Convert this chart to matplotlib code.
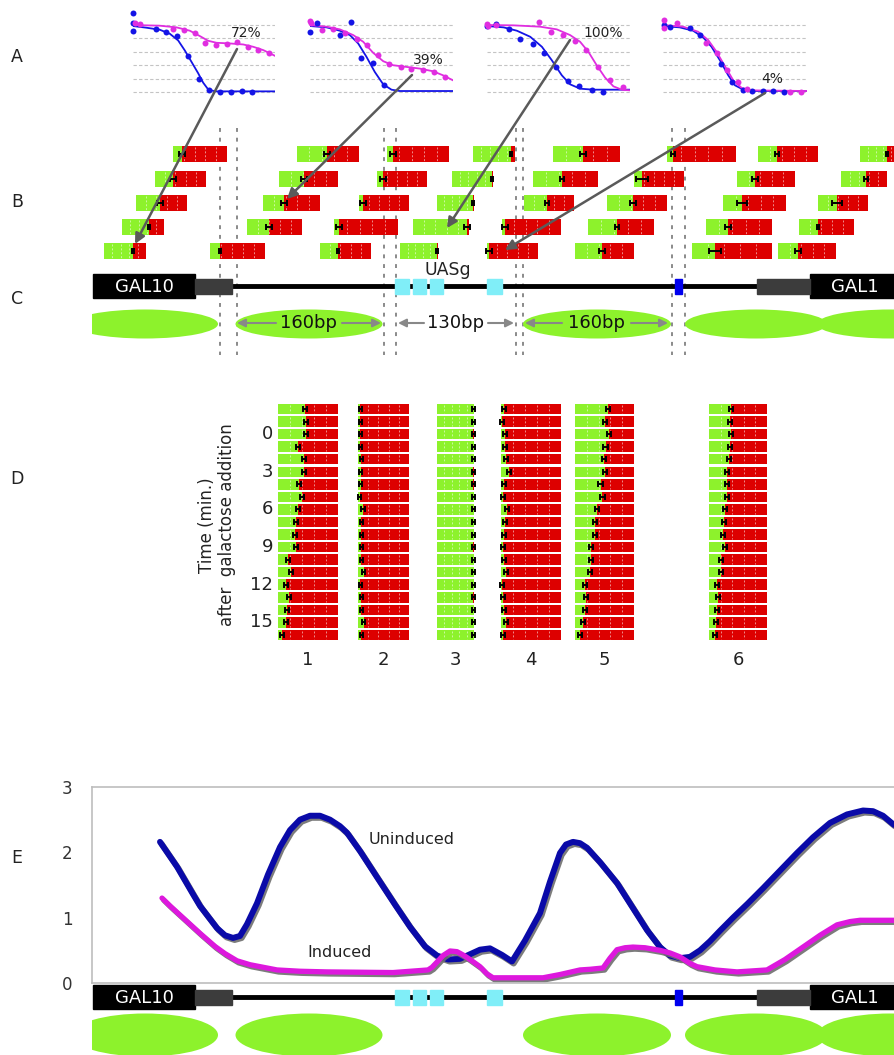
import numpy as np
import matplotlib
matplotlib.use("Agg")
import matplotlib.pyplot as plt
from matplotlib.patches import Rectangle, Ellipse
import matplotlib.patheffects as pe

W, H = 894, 1055
GREEN = "#8df22c"
RED = "#dd0000"
BLUE_A = "#1414e6"
MAG_A = "#e02ee0"
BLUE_E = "#0a0aa8"
MAG_E = "#dd18dd"
CYAN = "#80eef8"

# ---- panel A: occupancy decay curves (x = fraction of time course, y = relative signal)
grid_levels = [0.0, 0.2, 0.4, 0.6, 0.8, 1.0]
a_percent = ["72%", "39%", "100%", "4%"]

blue_dot_x = [[0, 0, 0, .16, .235, .311, .388, .464, .536, .612, .687, .765, .84],
              [0, .047, .209, .284, .36, .442, .519],
              [0, .065, .151, .233, .319, .4, .484, .563, .644, .733, .814],
              [.005, .051, .186, .26, .4, .481, .558, .616, .693, .767, .842]]
blue_dot_y = [[1.185, 1.025, .91, .935, .89, .84, .54, .19, .035, 0, 0, .015, 0],
              [.89, 1.025, .85, 1.04, .515, .435, .1],
              [.985, 1.015, .935, .785, .71, .585, .375, .165, .085, .025, 0],
              [1.0, .975, .95, .85, .425, .15, .025, .015, .015, .015, 0]]
blue_fit_x = [[0, .094, .188, .259, .318, .365, .412, .459, .494, .529, .576, 1.0],
              [0, .116, .209, .279, .337, .395, .453, .512, .57, .628, 1.0],
              [0, .116, .209, .302, .384, .453, .523, .581, .651, .744, 1.0],
              [0, .116, .209, .279, .337, .395, .453, .5, .558, .628, 1.0]]
blue_fit_y = [[.985, .96, .93, .87, .77, .62, .45, .28, .14, .04, .01, .01],
              [.985, .965, .915, .85, .725, .525, .30, .115, .035, .015, .015],
              [.985, .965, .915, .825, .675, .475, .25, .115, .05, .035, .035],
              [.985, .965, .915, .815, .675, .475, .25, .10, .035, .015, .015]]
mag_dot_x = [[.012, .052, .282, .358, .435, .506, .584, .659, .729, .807, .882, .958],
             [0, .005, .081, .163, .244, .326, .4, .477, .553, .633, .709, .791, .865, .942],
             [0, .005, .065, .367, .447, .53, .616, .693, .779, .86, .953],
             [.005, .005, .098, .302, .372, .447, .523, .581, .884, .958]]
mag_dot_y = [[1.025, 1.015, .935, .925, .875, .735, .70, .71, .75, .675, .625, .585],
             [1.065, 1.025, .925, .935, .875, .785, .70, .55, .425, .375, .35, .325, .30, .225],
             [1.015, .985, 1.0, 1.05, .9, .85, .765, .625, .375, .175, .075],
             [1.075, .95, 1.025, .725, .585, .325, .15, .05, 0, 0]]
mag_fit_x = [[0, .188, .306, .4, .471, .529, .588, .682, .776, .847, .918, 1.0],
             [0, .116, .209, .302, .372, .442, .512, .581, .674, .767, .86, .93, 1.0],
             [0, .186, .372, .488, .581, .651, .709, .767, .826, .884, .942, 1.0],
             [0, .14, .244, .314, .372, .43, .488, .547, .605, 1.0]]
mag_fit_y = [[1.0, .99, .965, .915, .835, .765, .735, .725, .71, .675, .625, .54],
             [1.0, .975, .935, .85, .75, .585, .46, .40, .375, .35, .31, .25, .175],
             [1.0, .995, .975, .935, .85, .75, .6, .4, .215, .085, .035, .025],
             [1.0, .975, .9, .775, .6, .385, .175, .06, .025, .015]]

# ---- panel B: nucleosome-position bars (start, green length, red length, error), one list per row
b_start = [[173, 297, 387, 473, 553, 667, 758, 860],
           [155, 279, 377, 452, 533, 634, 737, 841],
           [136, 263, 359, 437, 524, 607, 723, 818],
           [122, 247, 334, 413, 502, 588, 706, 799],
           [104, 210, 320, 400, 487, 575, 692, 778]]
b_green = [[9, 30, 6, 38, 30, 6, 19, 27],
           [18, 25, 6, 40, 29, 8, 18, 25],
           [24, 21, 4, 36, 23, 26, 19, 19],
           [27, 22, 5, 54, 3, 29, 22, 19],
           [29, 10, 18, 37, 2, 27, 23, 20]]
b_red = [[45, 32, 56, 4, 37, 63, 41, 12],
         [33, 34, 44, 1, 36, 42, 40, 21],
         [27, 36, 46, 1, 27, 34, 44, 31],
         [15, 33, 59, 2, 56, 37, 44, 36],
         [13, 45, 33, 1, 49, 32, 57, 38]]
b_err = [[3, 3, 3, 1, 3, 2, 2, 1],
         [3, 3, 3, 1, 2, 6, 3, 2],
         [3, 3, 3, 1, 2, 3, 5, 5],
         [1, 3, 3, 3, 3, 2, 3, 1],
         [1, 1, 1, 1, 3, 3, 6, 3]]

# ---- panel D: green fraction per time point for sites 1..6
d_labels = ["1", "2", "3", "4", "5", "6"]
d_left = [278, 358, 437, 501, 575, 709]
d_width = [60, 51, 37, 60, 59, 58]
d_frac = [
    [.444, .461, .472, .333, .428, .428, .35, .406, .333, .306, .278, .294, .167, .222, .128, .183, .156, .139, .072],
    [.046, .046, .046, .046, .066, .053, .053, .033, .099, .066, .066, .066, .066, .112, .046, .066, .066, .112, .066],
    [.99, .99, .98, .99, .99, .98, .98, .99, .99, .99, .99, .98, .99, .99, .99, .98, .99, .99, .99],
    [.044, .017, .072, .072, .088, .127, .044, .033, .099, .072, .055, .033, .044, .088, .017, .033, .044, .088, .033],
    [.562, .506, .573, .517, .494, .506, .433, .466, .376, .337, .337, .270, .264, .253, .169, .185, .169, .129, .084],
    [.385, .368, .385, .368, .345, .310, .310, .310, .282, .253, .241, .270, .213, .213, .138, .155, .138, .126, .098]]
d_time_ticks = ["0", "3", "6", "9", "12", "15"]

# ---- panel E: nucleosome occupancy along the promoter
e_blue_x = [160, 177, 193, 200, 217, 225, 233, 240, 247, 257, 268, 280, 290, 300, 310, 320, 330, 340,
            347, 360, 377, 395, 410, 425, 437, 448, 460, 470, 480, 490, 502, 512, 525, 540, 550, 560,
            566, 573, 580, 587, 600, 617, 632, 647, 660, 670, 680, 690, 700, 710, 720, 733, 748, 763,
            780, 797, 813, 830, 847, 863, 873, 883, 894]
e_blue_y = [2.16, 1.78, 1.36, 1.18, 0.84, 0.73, 0.69, 0.72, 0.9, 1.22, 1.66, 2.08, 2.34, 2.5, 2.56, 2.56,
            2.5, 2.4, 2.3, 2.02, 1.62, 1.2, 0.86, 0.56, 0.42, 0.36, 0.37, 0.44, 0.51, 0.53, 0.43, 0.33,
            0.65, 1.07, 1.55, 1.99, 2.12, 2.16, 2.14, 2.07, 1.85, 1.53, 1.17, 0.81, 0.55, 0.42, 0.38, 0.4,
            0.5, 0.64, 0.8, 1.0, 1.22, 1.45, 1.72, 1.99, 2.23, 2.45, 2.58, 2.64, 2.63, 2.56, 2.42]
e_mag_x = [162, 170, 185, 200, 215, 225, 237, 250, 277, 300, 327, 393, 428, 432, 437, 443, 450, 457,
           463, 470, 480, 487, 493, 513, 543, 560, 580, 590, 603, 610, 617, 625, 633, 645, 660, 670,
           680, 690, 697, 715, 737, 767, 785, 803, 820, 837, 850, 860, 894]
e_mag_y = [1.3, 1.18, 0.97, 0.76, 0.56, 0.45, 0.34, 0.28, 0.2, 0.18, 0.17, 0.16, 0.2, 0.24, 0.32, 0.42,
           0.49, 0.48, 0.43, 0.36, 0.25, 0.14, 0.08, 0.08, 0.08, 0.13, 0.2, 0.21, 0.23, 0.38, 0.51, 0.54,
           0.55, 0.54, 0.5, 0.46, 0.4, 0.3, 0.25, 0.2, 0.17, 0.2, 0.36, 0.55, 0.73, 0.89, 0.94, 0.96, 0.96]
e_ticks = [0, 1, 2, 3]

# ---- promoter map features (shared by C and E)
gal10_box = (93, 195)
gal1_box = (810, 900)
utr_boxes = [(195, 232), (757, 810)]
uas_boxes = [(395, 409), (413, 426), (430, 443), (487, 502)]
tata_box = (675, 682)
nuc_centers = [145, 309, 597, 756, 890]
nuc_widths = [146, 147, 148, 142, 146]
dotted_x = [220, 237, 384, 396, 516, 523, 672, 685]

fig = plt.figure(figsize=(W / 100, H / 100), dpi=100)
ax = fig.add_axes([0, 0, 1, 1])
ax.set_xlim(0, W)
ax.set_ylim(H, 0)
ax.axis("off")
ax.set_zorder(5)


def px_axes(l, t, r, b):
    return fig.add_axes([l / W, 1 - b / H, (r - l) / W, (b - t) / H])


# panel letters
for letter, y in zip("ABCDE", [57, 202, 299, 479, 858]):
    ax.text(17, y, letter, fontsize=12.5, ha="center", va="center", color="#222222")

# ---------------- A
a_left = [133, 310, 487, 663]
a_right = [275, 453, 630, 807]
for i in range(4):
    sub = px_axes(a_left[i], 8, a_right[i], 99)
    sub.set_xlim(0, 1)
    sub.set_ylim(-0.104, 1.254)
    sub.axis("off")
    for g in grid_levels:
        sub.axhline(g, color="#c4c4c4", lw=0.8, ls=(0, (3, 2)))
    sub.plot(blue_fit_x[i], blue_fit_y[i], color=BLUE_A, lw=1.3)
    sub.plot(mag_fit_x[i], mag_fit_y[i], color=MAG_A, lw=1.3)
    sub.plot(blue_dot_x[i], blue_dot_y[i], "o", color=BLUE_A, ms=4.3, mec="none", clip_on=False)
    sub.plot(mag_dot_x[i], mag_dot_y[i], "o", color=MAG_A, ms=4.3, mec="none", clip_on=False)

for txt, pos in zip(a_percent, [(246, 33), (428, 60), (603, 33), (772, 79)]):
    ax.text(pos[0], pos[1], txt, fontsize=10, ha="center", va="center", color="#222222")

arrow_from = [(237, 49), (412, 75), (570, 40), (765, 93)]
arrow_to = [(135, 244), (287, 199), (447, 228), (505, 250)]
for s, e in zip(arrow_from, arrow_to):
    ax.annotate("", xy=e, xytext=s,
                arrowprops=dict(arrowstyle="-|>", color="#5a5a5a", lw=1.8, mutation_scale=15,
                                shrinkA=0, shrinkB=0), zorder=10)


# ---------------- B
def draw_bar(y, left, green, red, err, h):
    total = green + red
    ax.barh(y, green, left=left, height=h, color=GREEN, lw=0)
    ax.barh(y, red, left=left + green, height=h, color=RED, lw=0)
    qs = [left + total * k / 5 for k in range(1, 5)]
    ax.vlines(qs, y - h / 2 + 1, y + h / 2 - 1, colors="white", lw=0.7, alpha=0.55,
              linestyles=(0, (2, 2)))
    ax.errorbar(left + green, y, xerr=err, fmt="none", ecolor="black", elinewidth=1.4,
                capsize=2.5, capthick=1.4)


b_rows = [154, 179, 203, 227, 251]
for r, y in enumerate(b_rows):
    for j in range(len(b_start[r])):
        draw_bar(y, b_start[r][j], b_green[r][j], b_red[r][j], b_err[r][j], 16)

ax.vlines(dotted_x, 128, 355, colors="#8a8a8a", lw=1.4, linestyles=(0, (2, 3)), zorder=0)


# ---------------- C / E promoter map
def gene_map(yc, nuc_y, nuc_h):
    ax.plot([232, 757], [yc, yc], color="black", lw=3.5, solid_capstyle="butt", zorder=2)
    ax.add_patch(Rectangle((gal10_box[0], yc - 12), gal10_box[1] - gal10_box[0], 24, color="black", zorder=3))
    ax.add_patch(Rectangle((gal1_box[0], yc - 12), gal1_box[1] - gal1_box[0], 24, color="black", zorder=3))
    for a, b in utr_boxes:
        ax.add_patch(Rectangle((a, yc - 7.5), b - a, 15, color="#3c3c3c", zorder=3))
    for a, b in uas_boxes:
        ax.add_patch(Rectangle((a, yc - 7.5), b - a, 15, color=CYAN, zorder=3))
    ax.add_patch(Rectangle((tata_box[0], yc - 7.5), tata_box[1] - tata_box[0], 15, color="#0000ee", zorder=3))
    ax.text(144, yc + 1, "GAL10", color="white", fontsize=13, ha="center", va="center", zorder=4)
    ax.text(855, yc + 1, "GAL1", color="white", fontsize=13, ha="center", va="center", zorder=4)
    for c, w in zip(nuc_centers, nuc_widths):
        ax.add_patch(Ellipse((c, nuc_y), w, nuc_h, color=GREEN, lw=0, zorder=1))
    # the first nucleosome is cut off at the left end of the map
    ax.add_patch(Rectangle((50, nuc_y - nuc_h / 2 - 1), 42, nuc_h + 2, color="white", lw=0, zorder=1.5))


gene_map(286, 324, 29)
ax.text(448, 270, "UASg", fontsize=12.5, ha="center", va="center", color="#222222")

spacer_text = [("160bp", 309, 237, 276, 342, 381), ("130bp", 456, 398, 424, 488, 514),
               ("160bp", 596, 525, 562, 631, 668)]
for txt, cx, l_head, l_tail, r_tail, r_head in spacer_text:
    ax.text(cx, 323, txt, fontsize=13, ha="center", va="center", color="#111111")
    for s, e in [(l_tail, l_head), (r_tail, r_head)]:
        ax.annotate("", xy=(e, 323), xytext=(s, 323),
                    arrowprops=dict(arrowstyle="-|>", color="#888888", lw=1.5, mutation_scale=12,
                                    shrinkA=0, shrinkB=0), zorder=4)

# ---------------- D
d_rows = [409 + i * 12.55 for i in range(19)]
for c in range(6):
    for i, y in enumerate(d_rows):
        g = d_frac[c][i] * d_width[c]
        draw_bar(y, d_left[c], g, d_width[c] - g, 0.035 * d_width[c], 10.5)
    ax.text(d_left[c] + d_width[c] / 2, 660, d_labels[c], fontsize=13, ha="center", va="center",
            color="#222222")
for k, lab in enumerate(d_time_ticks):
    ax.text(273, d_rows[2 + 3 * k], lab, fontsize=13, ha="right", va="center", color="#222222")
ax.text(217, 525, "Time (min.)\nafter  galactose addition", rotation=90, fontsize=12,
        ha="center", va="center", multialignment="center", color="#222222", linespacing=1.1)

# ---------------- E
ex = px_axes(92, 787, 894, 983)
ex.set_facecolor("none")
ex.set_xlim(92, 894)
ex.set_ylim(0, 3)
for side in ["left", "top", "bottom"]:
    ex.spines[side].set_color("#bdbdbd")
    ex.spines[side].set_linewidth(1.2)
ex.spines["right"].set_visible(False)
ex.set_xticks([])
ex.set_yticks(e_ticks)
ex.set_yticklabels([str(t) for t in e_ticks], fontsize=12, color="#333333")
ex.tick_params(axis="y", length=0, pad=14)
shadow = [pe.SimpleLineShadow(offset=(1.2, -1.5), shadow_color="#6e6e6e", alpha=0.9), pe.Normal()]
ex.plot(e_blue_x, e_blue_y, color=BLUE_E, lw=4.3, solid_joinstyle="round", solid_capstyle="round",
        clip_on=False, path_effects=shadow)
ex.plot(e_mag_x, e_mag_y, color=MAG_E, lw=3.8, solid_joinstyle="round", solid_capstyle="round",
        clip_on=False, path_effects=shadow)
ex.text(412, 2.19, "Uninduced", fontsize=11.5, ha="center", va="center", color="#222222")
ex.text(340, 0.46, "Induced", fontsize=11.5, ha="center", va="center", color="#222222")

gene_map(997, 1035, 43)

fig.savefig("out.png", dpi=100, facecolor="white")
